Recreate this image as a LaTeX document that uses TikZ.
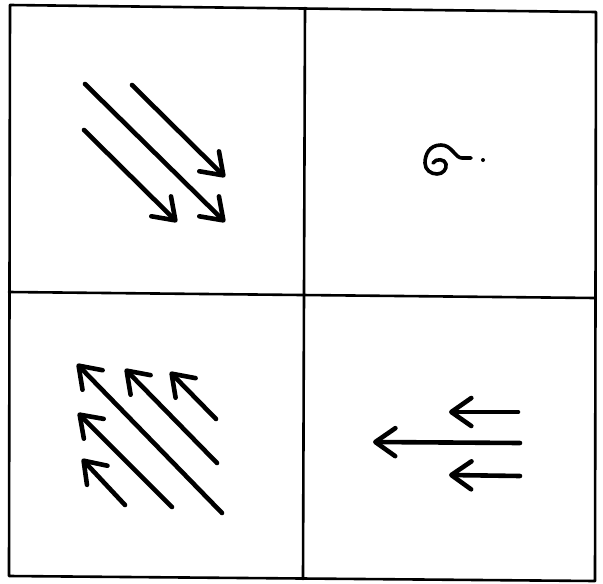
\documentclass[tikz,border=0pt]{standalone}
\usetikzlibrary{arrows.meta}
\begin{document}
\begin{tikzpicture}[x=1pt,y=-1pt,
  frame/.style={line width=2.6pt, line cap=round, line join=round},
  arrowline/.style={line width=4.6pt, line cap=round,
    -{Straight Barb[length=20pt,width=28pt,round]}},
  squiggle/.style={line width=3.6pt, line cap=round, line join=round}]
\useasboundingbox (0,0) rectangle (603,584);
% frame corners
\coordinate (TL) at (10,5);
\coordinate (TR) at (596,12);
\coordinate (BR) at (595,581);
\coordinate (BL) at (9,576);
\coordinate (MT) at (305,8);
\coordinate (MB) at (303,579);
\coordinate (ML) at (9,292);
\coordinate (MR) at (595,298);
\draw[frame] (TL) -- (TR) -- (BR) -- (BL) -- cycle;
\draw[frame] (MT) -- (MB);
\draw[frame] (ML) -- (MR);
% top-left: three arrows pointing down-right
\coordinate (a1s) at (85,84);  \coordinate (a1e) at (225,222);
\coordinate (a2s) at (132,85); \coordinate (a2e) at (225,177);
\coordinate (a3s) at (84,130); \coordinate (a3e) at (177,222);
\draw[arrowline] (a1s) -- (a1e);
\draw[arrowline] (a2s) -- (a2e);
\draw[arrowline] (a3s) -- (a3e);
% top-right: curl symbol
\coordinate (dot) at (483,160);
\draw[squiggle] (471,158) -- (462,158)
  .. controls (455,158) and (452,145) .. (441,145)
  .. controls (429,145) and (425,155) .. (425,163)
  .. controls (425,170) and (431,174) .. (437,174)
  .. controls (443,174) and (447,169) .. (446,164)
  .. controls (445,159) and (436,158) .. (433,163);
\fill (dot) circle (2pt);
% bottom-left: five arrows pointing up-left
\coordinate (b1s) at (222,513); \coordinate (b1e) at (77,364);
\coordinate (b2s) at (217,463); \coordinate (b2e) at (125,369);
\coordinate (b3s) at (216,419); \coordinate (b3e) at (170,372);
\coordinate (b4s) at (172,507); \coordinate (b4e) at (78,413);
\coordinate (b5s) at (125,505); \coordinate (b5e) at (82,459);
\draw[arrowline] (b1s) -- (b1e);
\draw[arrowline] (b2s) -- (b2e);
\draw[arrowline] (b3s) -- (b3e);
\draw[arrowline] (b4s) -- (b4e);
\draw[arrowline] (b5s) -- (b5e);
% bottom-right: three arrows pointing left
\coordinate (c1s) at (518,412); \coordinate (c1e) at (449,412);
\coordinate (c2s) at (520,443); \coordinate (c2e) at (373,442);
\coordinate (c3s) at (520,476); \coordinate (c3e) at (449,475);
\draw[arrowline] (c1s) -- (c1e);
\draw[arrowline] (c2s) -- (c2e);
\draw[arrowline] (c3s) -- (c3e);
\end{tikzpicture}
\end{document}
